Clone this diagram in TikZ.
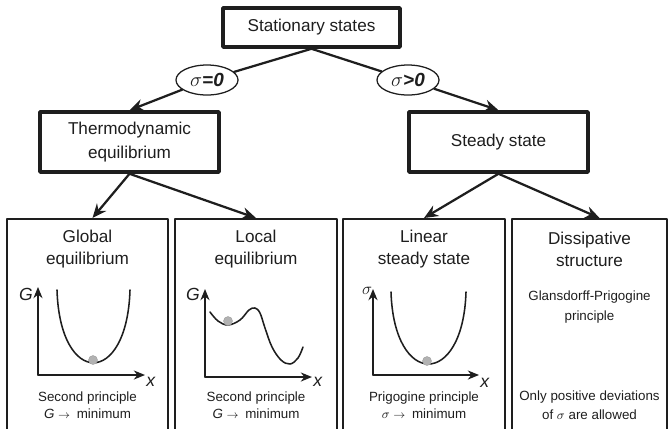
\documentclass[tikz,border=0pt]{standalone}
\usepackage{fontspec}
\setmainfont{Liberation Sans}
\usepackage{tikz}
\usetikzlibrary{arrows.meta,shapes.geometric}
\definecolor{ink}{HTML}{1E1E1E}
\tikzset{
  every picture/.style={line join=round, line cap=round, >=Stealth, color=ink},
  headbox/.style={draw, line width=2.5pt, align=center, fill=white,
    font=\fontsize{12.2}{17}\selectfont},
  casebox/.style={draw, line width=1.4pt, minimum height=5.375cm, anchor=north},
  sigmatag/.style={draw, ellipse, line width=0.9pt, fill=white, inner sep=0pt,
    minimum width=1.55cm, minimum height=0.75cm, font=\fontsize{13.5}{13.5}\selectfont},
  titletext/.style={align=center, font=\fontsize{12.2}{15.6}\selectfont},
  smalltext/.style={align=center, font=\fontsize{9.5}{12.2}\selectfont},
  axislabel/.style={font=\fontsize{12.5}{12.5}\selectfont},
  branch/.style={->, line width=1.6pt, >={Stealth[length=10pt,width=8.5pt]}},
  axis/.style={->, line width=1pt, >={Stealth[length=8pt,width=6.5pt]}},
  curve/.style={line width=1.1pt},
  ball/.style={fill=gray!60, draw=gray!75, line width=0.3pt},
}

\begin{document}
\begin{tikzpicture}[x=0.025cm,y=-0.025cm]
\useasboundingbox (0,0) rectangle (668,428);
% boxes of the tree
\node[headbox, minimum width=4.425cm, minimum height=0.975cm] (stat) at (311.5,27.5) {Stationary states};
\node[headbox, minimum width=4.475cm, minimum height=1.5cm] (thermo) at (129.5,142) {Thermodynamic\\equilibrium};
\node[headbox, minimum width=4.475cm, minimum height=1.5cm] (steady) at (498.5,142) {Steady state};
\node[sigmatag] (szero) at (207,80) {$\sigma$\textbf{\textit{=0}}};
\node[sigmatag] (spos) at (408,80) {$\sigma$\textbf{\textit{>0}}};
\node[casebox, minimum width=4.025cm] (glob) at (87.5,218) {};
\node[casebox, minimum width=4.05cm] (loc) at (256,218) {};
\node[casebox, minimum width=4.05cm] (lin) at (424,218) {};
\node[casebox, minimum width=3.875cm] (diss) at (589.5,218) {};
% connectors
\draw[line width=1.6pt] (stat.south) -- (szero);
\draw[branch] (szero) -- (thermo.north);
\draw[line width=1.6pt] (stat.south) -- (spos);
\draw[branch] (spos) -- (steady.north);
\draw[branch] (thermo.south) -- ([xshift=0.125cm]glob.north);
\draw[branch] (thermo.south) -- (loc.north);
\draw[branch] (steady.south) -- (lin.north);
\draw[branch] (steady.south) -- ([xshift=0.25cm]diss.north);
% titles
\node[titletext] (globt) at (87.5,249) {Global\\equilibrium};
\node[titletext] (loct) at (256,249) {Local\\equilibrium};
\node[titletext] (lint) at (424,249) {Linear\\steady state};
\node[titletext] (disst) at (589.5,249) {Dissipative\\structure};
% global equilibrium
\draw[axis] (38,375) -- (38,287);
\draw[axis] (38,375) -- (145,375);
\node[axislabel] (gg) at (26,294) {\textit{G}};
\node[axislabel] (gx) at (151,382) {\textit{x}};
\draw[curve] (57,290) .. controls (60,387) and (127,387) .. (130,290);
\fill[ball] (93,360) circle (4.5);
\node[smalltext] (globp) at (87.5,405.5) {Second principle\\\textit{G} {\footnotesize$\rightarrow$}\enspace minimum};
% local equilibrium
\draw[axis] (205,377) -- (205,289);
\draw[axis] (205,377) -- (312,377);
\node[axislabel] (lg) at (193,294) {\textit{G}};
\node[axislabel] (lx) at (318,382) {\textit{x}};
\draw[curve] plot[smooth, tension=0.6] coordinates {(210,312) (218,321) (228,325) (240,320) (249,310) (255,308) (260,313) (265,328) (272,347) (281,360) (290,364) (298,358) (303,347)};
\fill[ball] (228,321) circle (4.5);
\node[smalltext] (locp) at (256,405.5) {Second principle\\\textit{G} {\footnotesize$\rightarrow$}\enspace minimum};
% linear steady state
\draw[axis] (373,375) -- (373,289);
\draw[axis] (373,375) -- (479,375);
\node[axislabel] (ls) at (367,291) {$\sigma$};
\node[axislabel] (lsx) at (485,383) {\textit{x}};
\draw[curve] (391,292) .. controls (394,388) and (463,388) .. (466,292);
\fill[ball] (427,361) circle (4.5);
\node[smalltext] (linp) at (424,405.5) {Prigogine principle\\$\sigma$ {\footnotesize$\rightarrow$}\enspace minimum};
% dissipative structure
\node[smalltext, font=\fontsize{9.5}{14}\selectfont] (gp) at (589.5,307) {Glansdorff-Prigogine\\principle};
\node[smalltext, font=\fontsize{9.5}{13.5}\selectfont] (dissp) at (589.5,405.5) {Only positive deviations\\of $\sigma$ are allowed};
\end{tikzpicture}
\end{document}
